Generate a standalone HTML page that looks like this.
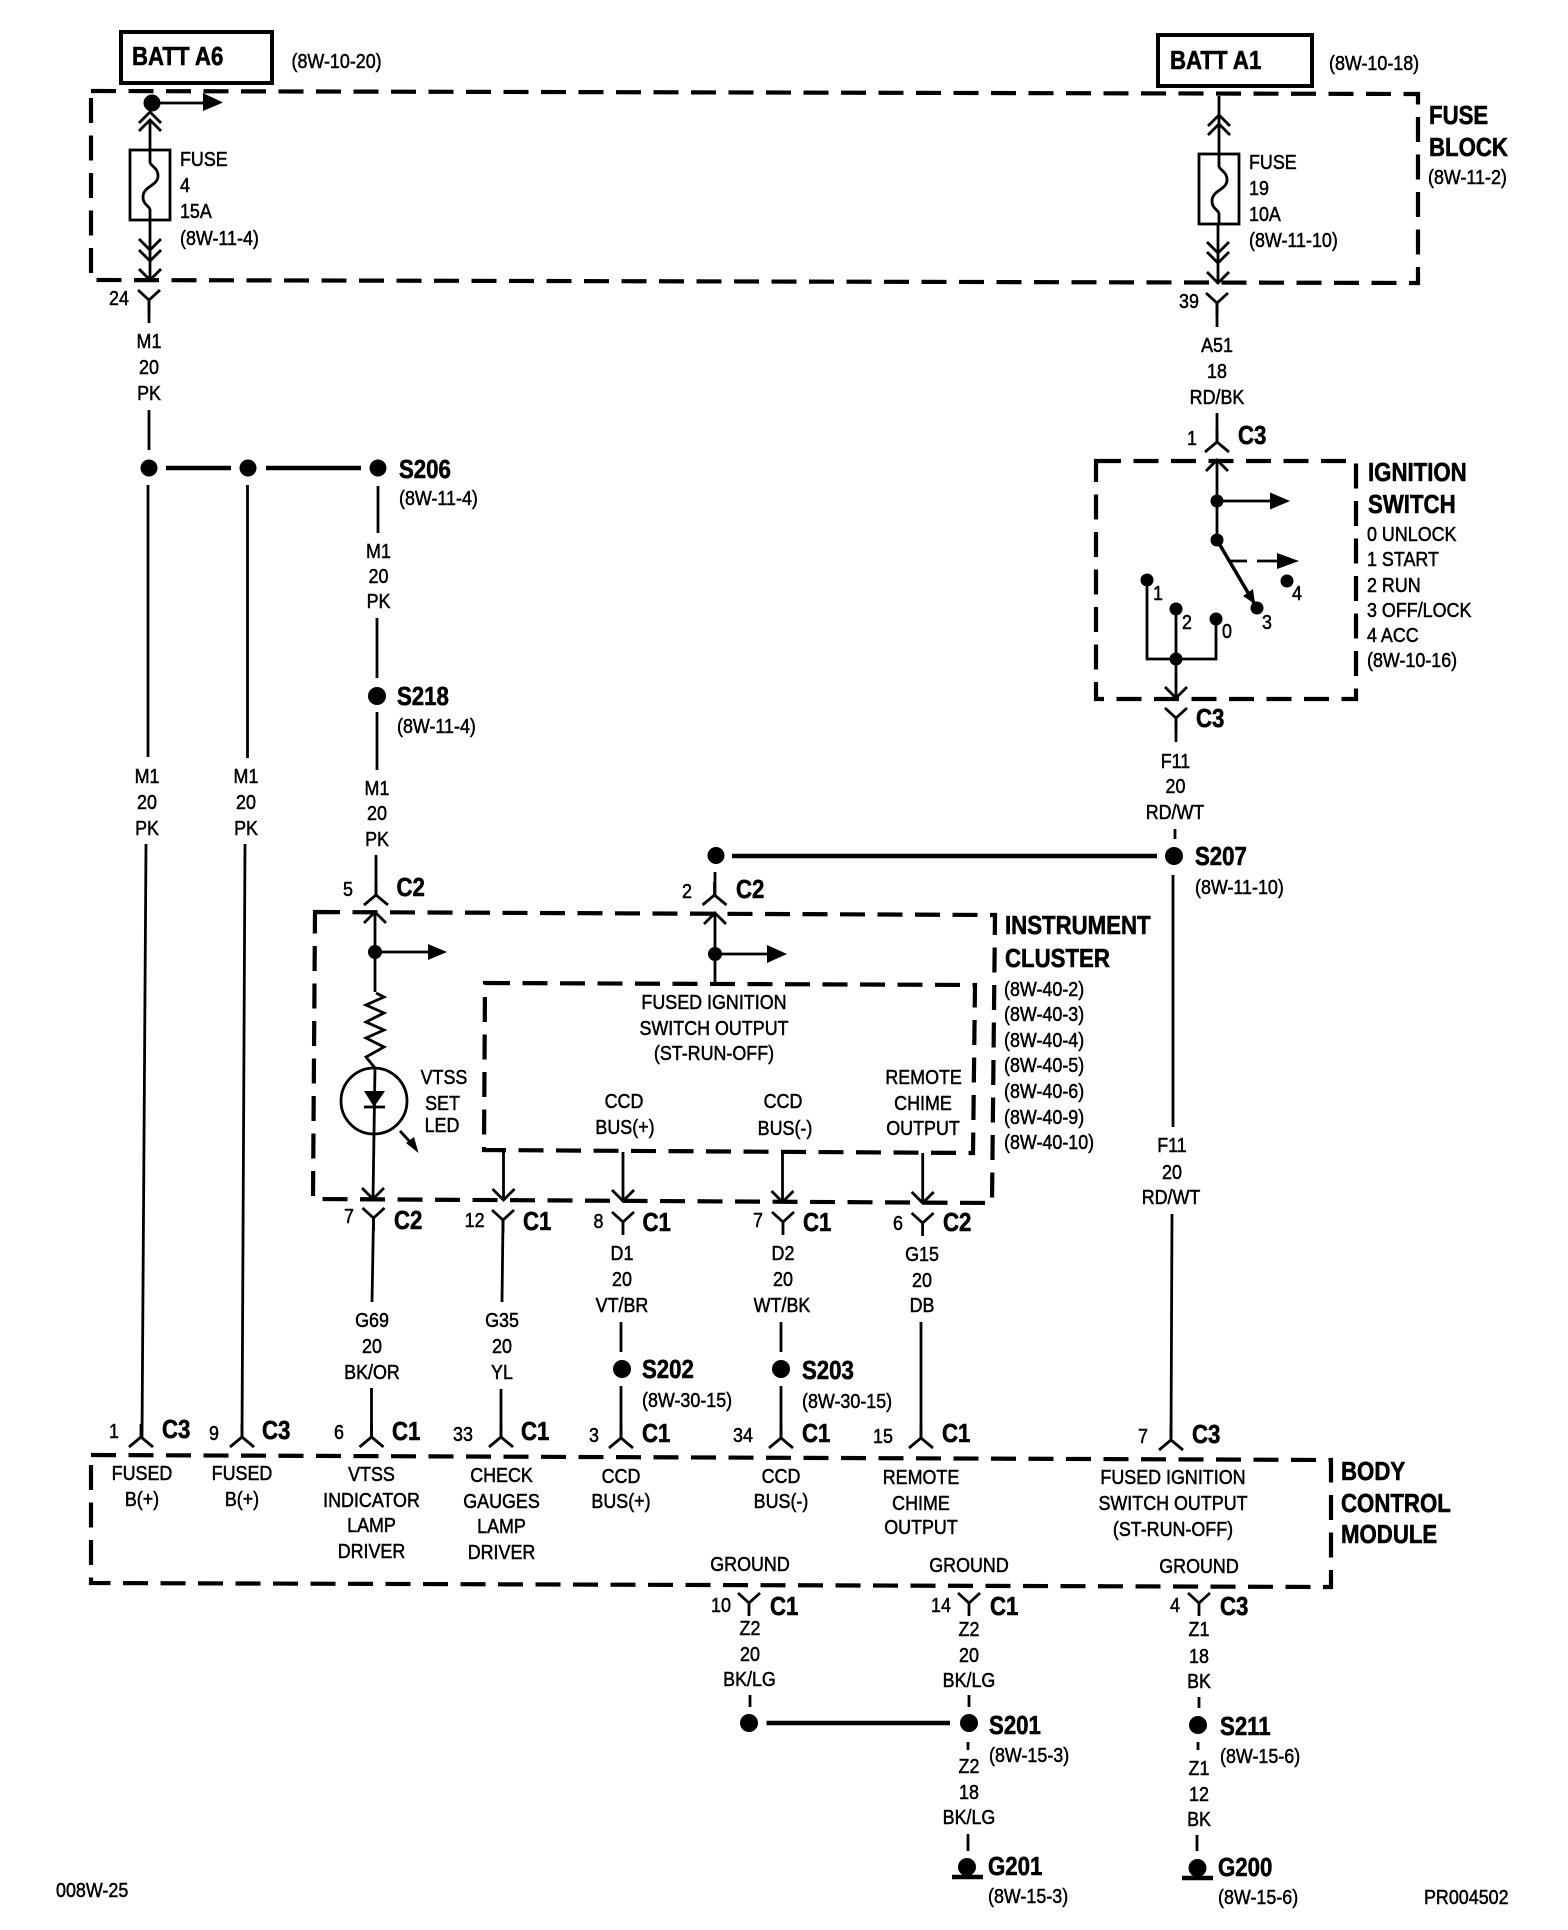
<!DOCTYPE html>
<html><head><meta charset="utf-8"><title>Wiring diagram</title>
<style>
html,body{margin:0;padding:0;background:#fff}
svg{display:block}
text{font-family:"Liberation Sans",sans-serif;fill:#000;transform-box:fill-box}
.m text,.s text{font-size:20px;stroke:#000;stroke-width:.5}
.m text{text-anchor:middle;transform-origin:center;transform:scaleX(.895)}
.s text{transform-origin:left center;transform:scaleX(.895)}
.b text{font-size:26px;font-weight:700;stroke:#000;stroke-width:.6;transform-origin:left center;transform:scaleX(.855)}
.w{fill:none;stroke:#000;stroke-width:2.8}
.t{fill:none;stroke:#000;stroke-width:4.5}
.d{fill:none;stroke:#000;stroke-width:4.2;stroke-dasharray:25 12.5}
.k{fill:#000;stroke:none}
</style></head><body>
<svg width="1568" height="1930" viewBox="0 0 1568 1930" xmlns="http://www.w3.org/2000/svg">
<defs>
<path id="Y" d="M-11,-10 L0,0 L11,-10 M0,0 V13" fill="none" stroke="#000" stroke-width="2.8"/>
<path id="A" d="M-12,10 L0,0 L12,10 M0,0 V-13" fill="none" stroke="#000" stroke-width="2.8"/>
<path id="cu" d="M-11,11 L0,0 L11,11" fill="none" stroke="#000" stroke-width="2.8"/>
<path id="cd" d="M-11,-11 L0,0 L11,-11" fill="none" stroke="#000" stroke-width="2.8"/>
<path id="fs" d="M0,0 V12 C0,16 8,17 8,26 C8,36 -7,36 -7,47 C-7,55 0,56 0,60 V70" fill="none" stroke="#000" stroke-width="2.8"/>
</defs>

<!-- Dashed boxes -->
<path class="d" d="M91,91 L1418,94 L1418,283 L91,280 Z"/>
<path class="d" d="M1096,461 L1356,461 L1356,699 L1096,699 Z"/>
<path class="d" d="M315,912 L995,915 L992,1203 L313,1199 Z"/>
<path class="d" d="M485,983 L975,985 L973,1153 L484,1150 Z"/>
<path class="d" d="M91,1455 L1331,1460 L1331,1587 L91,1583 Z"/>

<!-- BATT boxes -->
<rect x="121" y="32" width="151" height="51" fill="none" stroke="#000" stroke-width="4"/>
<rect x="1158" y="35" width="154" height="51" fill="none" stroke="#000" stroke-width="4"/>

<!-- Left fuse -->
<circle class="k" cx="152" cy="103" r="8.5"/>
<path class="w" d="M152,103 H205"/><path class="k" d="M203,93 L223,102.5 L203,111 Z"/>
<use href="#cu" x="150" y="112"/><use href="#cu" x="150" y="120"/>
<path class="w" d="M150,120 V150 M150,220 V280"/>
<rect class="w" x="130" y="150" width="40" height="70"/>
<use href="#fs" x="150" y="150"/>
<use href="#cd" x="150" y="250"/><use href="#cd" x="150" y="261"/><use href="#cd" x="150" y="280"/>
<use href="#Y" x="149" y="300"/><path class="w" d="M149,300 V323 M149,410 V450"/>

<!-- Right fuse -->
<path class="w" d="M1219,96 V154 M1218,224 V284"/>
<use href="#cu" x="1219" y="115"/><use href="#cu" x="1219" y="124"/>
<rect class="w" x="1199" y="154" width="40" height="70"/>
<use href="#fs" x="1219" y="154"/>
<use href="#cd" x="1218" y="253"/><use href="#cd" x="1218" y="263"/><use href="#cd" x="1218" y="283"/>
<use href="#Y" x="1217" y="303"/><path class="w" d="M1217,303 V327"/>

<!-- S206 row -->
<circle class="k" cx="149" cy="468" r="8.5"/><circle class="k" cx="248" cy="468" r="8.5"/><circle class="k" cx="378" cy="468" r="8.5"/>
<path class="t" d="M166,468 H231 M266,468 H361"/>
<path class="w" d="M148,485 V757 M247.500,485 V758 M378,486 V533 M377,618 V678 M377,712 V770 M376,855 V895"/>
<circle class="k" cx="377" cy="696" r="9"/>
<path class="w" d="M146,844 L142,1437 M245,844 L242,1437"/>
<use href="#A" x="141" y="1437"/><use href="#A" x="242" y="1437"/>

<!-- Cluster left column -->
<use href="#A" x="376" y="895"/><use href="#cu" x="375" y="912"/>
<path class="w" d="M375,912 V992"/><circle class="k" cx="375" cy="952" r="7"/>
<path class="w" d="M375,952 H430"/><path class="k" d="M428,944 L447,952 L428,960 Z"/>
<path class="w" d="M376,993 L384,997 L366,1005 L384,1013 L366,1022 L384,1030 L366,1038 L384,1047 L366,1057 L375,1068"/>
<circle class="w" cx="374" cy="1101" r="33"/>
<path class="k" d="M364,1091 H385 L374,1107 Z"/><path class="w" d="M364,1107 H385 M375,1068 L373,1199"/>
<path class="k" d="M418.500,1153 L406,1143 L414,1137 Z"/><path class="w" d="M400,1131 L412,1144"/>
<use href="#cd" x="373" y="1199"/>
<use href="#Y" x="373.500" y="1218"/><path class="w" d="M373.500,1218 L372,1302 M371.500,1388 V1437"/>
<use href="#A" x="371.500" y="1437"/>

<!-- Cluster centre connector -->
<circle class="k" cx="716" cy="855.500" r="8.500"/>
<path class="t" d="M732,856 H1157"/>
<path class="w" d="M715,872 V895"/><use href="#A" x="714.500" y="895"/><use href="#cu" x="715" y="913"/>
<path class="w" d="M715,913 V984"/><circle class="k" cx="715" cy="954" r="7"/>
<path class="w" d="M715,954 H769"/><path class="k" d="M767,945 L787,954 L767,963 Z"/>

<!-- Cluster outputs -->
<path class="w" d="M503.500,1150 V1200 M623,1152 V1202 M782.500,1153 V1202 M922.700,1153 V1203"/>
<use href="#cd" x="503.500" y="1200"/><use href="#cd" x="623" y="1201"/><use href="#cd" x="782.500" y="1202"/><use href="#cd" x="922.700" y="1203"/>
<use href="#Y" x="503" y="1220"/><use href="#Y" x="623" y="1222"/><use href="#Y" x="783" y="1222"/><use href="#Y" x="922.600" y="1223"/>
<path class="w" d="M503,1220 L502,1302 M501,1389 V1437 M621,1322 V1352 M621,1386 V1438 M781,1322 V1352 M781,1386 V1438 M921,1322 V1438"/>
<use href="#A" x="501" y="1437"/><use href="#A" x="621" y="1438"/><use href="#A" x="781" y="1438"/><use href="#A" x="921" y="1438"/>
<circle class="k" cx="622" cy="1369" r="9"/><circle class="k" cx="781" cy="1369" r="9"/>

<!-- Ignition switch -->
<path class="w" d="M1217,413 V442"/><use href="#A" x="1217" y="442"/><use href="#cu" x="1217" y="460"/>
<path class="w" d="M1217,460 V540"/><circle class="k" cx="1217" cy="501" r="6.500"/><circle class="k" cx="1217" cy="540" r="6.500"/>
<path class="w" d="M1217,501 H1272"/><path class="k" d="M1270,492.500 L1290,501 L1270,509.500 Z"/>
<path class="w" d="M1217,540 L1257,608" style="stroke-width:3.500"/><circle class="k" cx="1257" cy="608" r="6.500"/>
<path class="k" d="M1243,596 L1253,589 L1255,604 Z"/>
<path class="w" d="M1228,561 H1247 M1257,561 H1279"/><path class="k" d="M1277,553 L1299,561 L1277,569 Z"/>
<circle class="k" cx="1287" cy="581" r="6.500"/><circle class="k" cx="1147" cy="580" r="6.500"/><circle class="k" cx="1176" cy="609" r="6.500"/><circle class="k" cx="1216" cy="619" r="6.500"/><circle class="k" cx="1176" cy="659" r="6.500"/>
<path class="w" d="M1147,580 V659 H1216 V619 M1176,609 V698"/>
<use href="#cd" x="1176" y="698"/><use href="#Y" x="1176" y="718"/><path class="w" d="M1176,718 V742 M1175,829 V839 M1173,875 V1127"/>
<circle class="k" cx="1174" cy="856" r="9"/>
<path class="w" d="M1172,1214 L1171,1440"/><use href="#A" x="1171" y="1440"/>

<!-- Ground section -->
<use href="#Y" x="749" y="1603"/><use href="#Y" x="969" y="1603"/><use href="#Y" x="1199" y="1603"/>
<path class="w" d="M750,1695 V1707 M969,1695 V1707 M968,1742 V1750 M968,1834 V1851 M1199,1697 V1708 M1198,1742 V1750 M1197,1835 V1851"/>
<circle class="k" cx="749" cy="1723" r="9"/><circle class="k" cx="969" cy="1723" r="9"/><circle class="k" cx="1198" cy="1725" r="9"/>
<path class="t" d="M766.500,1723 H950"/>
<circle class="k" cx="967" cy="1867" r="9"/><circle class="k" cx="1197.500" cy="1868" r="9"/>
<path class="t" d="M952,1877 H983 M1182,1878 H1213"/>

<!-- Bold labels -->
<g class="b">
<text x="132" y="65">BATT A6</text>
<text x="1170" y="69">BATT A1</text>
<text x="1429" y="124">FUSE</text><text x="1429" y="156">BLOCK</text>
<text x="399" y="478">S206</text><text x="397" y="705">S218</text>
<text x="1238" y="444">C3</text>
<text x="1368" y="481">IGNITION</text><text x="1368" y="513">SWITCH</text>
<text x="1196" y="727">C3</text>
<text x="1195" y="865">S207</text>
<text x="396.500" y="896">C2</text><text x="736" y="898">C2</text>
<text x="1005" y="934">INSTRUMENT</text><text x="1005" y="967">CLUSTER</text>
<text x="394" y="1229">C2</text><text x="523" y="1230">C1</text><text x="642.500" y="1231">C1</text><text x="803" y="1231">C1</text><text x="943" y="1231">C2</text>
<text x="642" y="1378">S202</text><text x="802" y="1379">S203</text>
<text x="162" y="1438">C3</text><text x="262" y="1439">C3</text><text x="392" y="1440">C1</text><text x="521" y="1440">C1</text><text x="642" y="1442">C1</text><text x="802" y="1442">C1</text><text x="942" y="1442">C1</text><text x="1192" y="1443">C3</text>
<text x="1341" y="1480">BODY</text><text x="1341" y="1512">CONTROL</text><text x="1341" y="1543">MODULE</text>
<text x="770" y="1615">C1</text><text x="990" y="1615">C1</text><text x="1220" y="1615">C3</text>
<text x="989" y="1734">S201</text><text x="1220" y="1735">S211</text>
<text x="988" y="1875">G201</text><text x="1218" y="1876">G200</text>
</g>

<!-- Start-anchored regular labels -->
<g class="s">
<text x="291.500" y="68">(8W-10-20)</text><text x="1329" y="70">(8W-10-18)</text>
<text x="180" y="166">FUSE</text><text x="180" y="192">4</text><text x="180" y="218">15A</text><text x="180" y="245">(8W-11-4)</text>
<text x="1249" y="169">FUSE</text><text x="1249" y="195">19</text><text x="1249" y="221">10A</text><text x="1249" y="247">(8W-11-10)</text>
<text x="1428" y="184">(8W-11-2)</text>
<text x="399" y="505">(8W-11-4)</text><text x="397" y="733">(8W-11-4)</text>
<text x="1367" y="541">0 UNLOCK</text><text x="1367" y="566">1 START</text><text x="1367" y="592">2 RUN</text><text x="1367" y="617">3 OFF/LOCK</text><text x="1367" y="642">4 ACC</text><text x="1367" y="667">(8W-10-16)</text>
<text x="1195" y="894">(8W-11-10)</text>
<text x="1004" y="996">(8W-40-2)</text><text x="1004" y="1021">(8W-40-3)</text><text x="1004" y="1047">(8W-40-4)</text><text x="1004" y="1072">(8W-40-5)</text><text x="1004" y="1098">(8W-40-6)</text><text x="1004" y="1124">(8W-40-9)</text><text x="1004" y="1149">(8W-40-10)</text>
<text x="642" y="1407">(8W-30-15)</text><text x="802" y="1408">(8W-30-15)</text>
<text x="989" y="1762">(8W-15-3)</text><text x="1220" y="1763">(8W-15-6)</text>
<text x="988" y="1903">(8W-15-3)</text><text x="1218" y="1904">(8W-15-6)</text>
<text x="56" y="1897">008W-25</text><text x="1417" y="1904" style="transform:translateX(7px) scaleX(.895)">PR004502</text>
</g>

<!-- Centred regular labels -->
<g class="m">
<text x="119" y="305">24</text><text x="149" y="348">M1</text><text x="149" y="374">20</text><text x="149" y="400">PK</text>
<text x="1189" y="308">39</text><text x="1217" y="352">A51</text><text x="1217" y="378">18</text><text x="1217" y="404">RD/BK</text>
<text x="1192" y="445">1</text>
<text x="378.500" y="558">M1</text><text x="378.500" y="583">20</text><text x="378.500" y="608">PK</text>
<text x="377" y="795">M1</text><text x="377" y="820">20</text><text x="377" y="846">PK</text>
<text x="147" y="783">M1</text><text x="147" y="809">20</text><text x="147" y="835">PK</text>
<text x="246" y="783">M1</text><text x="246" y="809">20</text><text x="246" y="835">PK</text>
<text x="1158" y="600">1</text><text x="1187" y="629">2</text><text x="1227" y="638">0</text><text x="1267" y="629">3</text><text x="1297" y="600">4</text>
<text x="1175.500" y="768">F11</text><text x="1175.500" y="793">20</text><text x="1175" y="819">RD/WT</text>
<text x="1172" y="1152">F11</text><text x="1172" y="1179">20</text><text x="1171" y="1204">RD/WT</text>
<text x="348" y="896">5</text><text x="687" y="898">2</text>
<text x="714" y="1009">FUSED IGNITION</text><text x="714" y="1035">SWITCH OUTPUT</text><text x="714" y="1060">(ST-RUN-OFF)</text>
<text x="444" y="1084">VTSS</text><text x="442.500" y="1110">SET</text><text x="442" y="1132">LED</text>
<text x="624" y="1108">CCD</text><text x="625" y="1134">BUS(+)</text>
<text x="783" y="1108">CCD</text><text x="785" y="1135">BUS(-)</text>
<text x="923.600" y="1084">REMOTE</text><text x="923" y="1110">CHIME</text><text x="923" y="1135">OUTPUT</text>
<text x="349" y="1223">7</text><text x="474.600" y="1227">12</text><text x="598.500" y="1228">8</text><text x="758" y="1227">7</text><text x="898" y="1230">6</text>
<text x="622" y="1260">D1</text><text x="622" y="1286">20</text><text x="622" y="1312">VT/BR</text>
<text x="783" y="1260">D2</text><text x="783" y="1286">20</text><text x="782" y="1312">WT/BK</text>
<text x="922" y="1261">G15</text><text x="922" y="1287">20</text><text x="922" y="1312">DB</text>
<text x="372" y="1327">G69</text><text x="372" y="1353">20</text><text x="372" y="1379">BK/OR</text>
<text x="502" y="1327">G35</text><text x="502" y="1353">20</text><text x="502" y="1379">YL</text>
<text x="114" y="1438">1</text><text x="214" y="1440">9</text><text x="339" y="1439">6</text><text x="463" y="1441">33</text><text x="594" y="1442">3</text><text x="743" y="1442">34</text><text x="883" y="1443">15</text><text x="1143" y="1443">7</text>
<text x="142" y="1480">FUSED</text><text x="142" y="1506">B(+)</text>
<text x="242" y="1480">FUSED</text><text x="242" y="1506">B(+)</text>
<text x="371.500" y="1481">VTSS</text><text x="371.500" y="1507">INDICATOR</text><text x="371.500" y="1532">LAMP</text><text x="371.500" y="1558">DRIVER</text>
<text x="501.500" y="1482">CHECK</text><text x="501.500" y="1508">GAUGES</text><text x="501.500" y="1533">LAMP</text><text x="501.500" y="1559">DRIVER</text>
<text x="621" y="1483">CCD</text><text x="621" y="1508">BUS(+)</text>
<text x="781" y="1483">CCD</text><text x="781" y="1508">BUS(-)</text>
<text x="921" y="1484">REMOTE</text><text x="921" y="1510">CHIME</text><text x="921" y="1534">OUTPUT</text>
<text x="1173" y="1484">FUSED IGNITION</text><text x="1173" y="1510">SWITCH OUTPUT</text><text x="1173" y="1536">(ST-RUN-OFF)</text>
<text x="750" y="1571">GROUND</text><text x="969" y="1572">GROUND</text><text x="1199" y="1573">GROUND</text>
<text x="721" y="1612">10</text><text x="941" y="1612">14</text><text x="1175" y="1612">4</text>
<text x="750" y="1635">Z2</text><text x="969" y="1636">Z2</text>
<text x="750" y="1661">20</text><text x="969" y="1662">20</text>
<text x="749.500" y="1686">BK/LG</text><text x="969" y="1687">BK/LG</text>
<text x="1199" y="1636">Z1</text><text x="1199" y="1663">18</text><text x="1199" y="1688">BK</text>
<text x="969" y="1773">Z2</text><text x="969" y="1799">18</text><text x="969" y="1824">BK/LG</text>
<text x="1199" y="1775">Z1</text><text x="1199" y="1801">12</text><text x="1199" y="1826">BK</text>
</g>
</svg>
</body></html>
